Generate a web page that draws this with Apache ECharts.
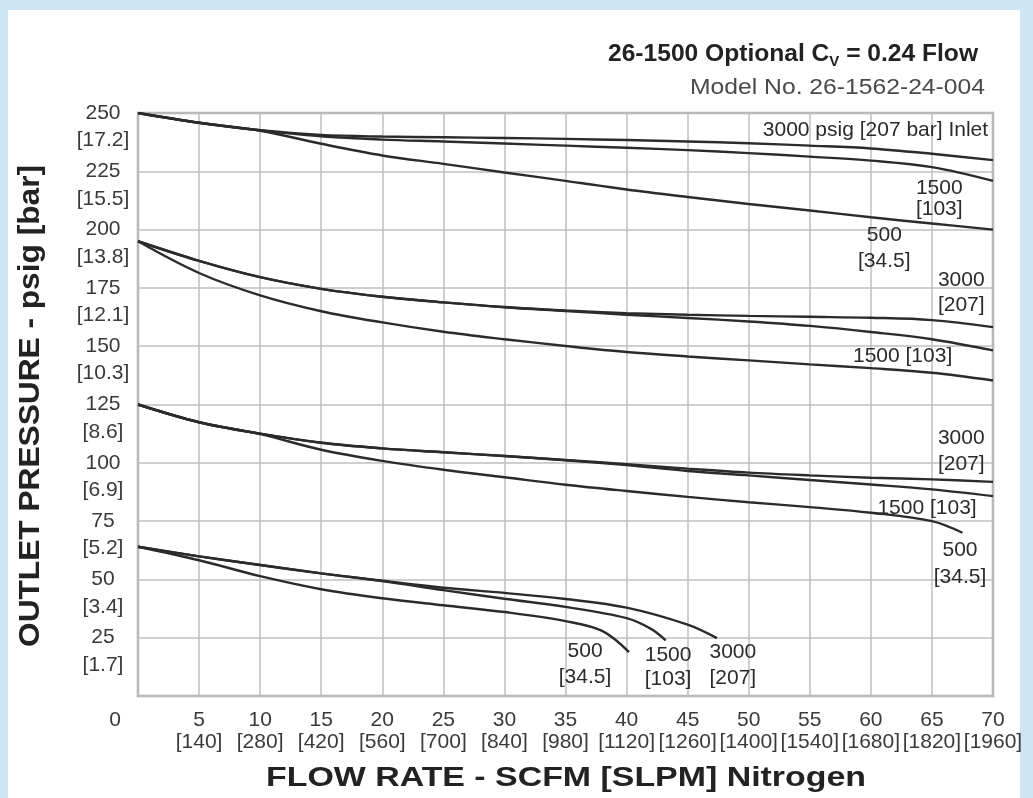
<!DOCTYPE html>
<html><head><meta charset="utf-8">
<script src="https://cdn.jsdelivr.net/npm/echarts@6/dist/echarts.min.js"></script>
<style>
html,body{margin:0;padding:0;background:#cde5f5;overflow:hidden}
#panel{position:absolute;left:8px;top:10px;width:1012px;height:788px;background:#fff}
#c{position:absolute;left:0;top:0;width:1033px;height:798px}
</style>
</head><body><div id="panel"></div><div id="c"></div>
<script>
// ---- tick labels ----
const scfmTicks = [0,5,10,15,20,25,30,35,40,45,50,55,60,65,70];
const slpmTicks = [0,140,280,420,560,700,840,980,1120,1260,1400,1540,1680,1820,1960];
const psigTicks = [0,25,50,75,100,125,150,175,200,225,250];
const barTicks  = ['0','1.7','3.4','5.2','6.9','8.6','10.3','12.1','13.8','15.5','17.2'];

// ---- flow (SCFM) samples ----
const flow = [0,5,10,15,20,25,30,35,40,45,50,55,60,65,70];

// Regulator set ~250 psig
const set250_inlet3000 = [250,245.8,242.6,240.6,239.9,239.6,239.3,238.9,238.4,237.8,237.0,236.0,234.8,232.5,229.8];
const set250_inlet1500 = [250,245.8,242.6,240.0,238.6,237.8,236.9,236.0,235.1,234.1,232.8,231.3,229.6,226.8,220.9];
const set250_inlet500  = [250,245.8,242.4,236.8,231.8,228.2,224.5,220.9,217.2,214.0,211.0,208.2,205.3,202.6,200.0];

// Regulator set ~195 psig
const set195_inlet3000 = [195,186.6,179.6,174.6,171.2,168.8,166.8,165.3,164.2,163.5,163.0,162.6,162.2,161.2,158.2];
const set195_inlet1500 = [195,186.6,179.6,174.6,171.2,168.8,166.7,165.1,163.5,162.1,160.6,158.7,156.1,153.0,148.2];
const set195_inlet500  = [195,181.4,171.8,165.0,160.2,156.2,153.0,150.1,147.5,145.6,143.9,142.2,140.6,138.6,135.3];

// Regulator set ~125 psig
const set125_inlet3000 = [125,117.4,112.5,108.6,106.2,104.5,102.9,101.2,99.4,97.5,95.8,94.6,93.6,92.9,91.8];
const set125_inlet1500 = [125,117.4,112.5,108.6,106.2,104.5,102.9,101.1,99.0,96.5,94.6,92.6,90.7,88.6,85.7];
const flow125_inlet500 = [0,5,10,15,20,25,30,35,40,45,50,55,60,65,67.5];
const set125_inlet500  = [125,117.4,112.3,105.6,100.8,97.0,93.8,90.6,87.9,85.4,83.1,81.0,78.6,75.0,70.0];

// Regulator set ~64 psig
const flow64_inlet3000 = [0,5,10,15,20,25,30,35,40,45,47.4];
const set64_inlet3000  = [64,59.9,56.2,52.6,49.4,46.4,44.2,41.6,37.9,30.6,24.8];
const flow64_inlet1500 = [0,5,10,15,20,25,30,35,40,42,43.2];
const set64_inlet1500  = [64,59.9,56.2,52.6,49.3,45.4,41.7,38.2,33.4,28.8,23.9];
const flow64_inlet500  = [0,5,10,15,20,25,30,35,38,40.2];
const set64_inlet500   = [64,58.2,51.4,45.8,41.9,38.9,36.0,32.1,27.9,18.8];

// curve annotation texts
const curveLabelText = ['3000 psig [207 bar] Inlet','1500\n[103]','500\n[34.5]','3000\n[207]','1500 [103]',
  '3000\n[207]','1500 [103]','500\n[34.5]','500\n[34.5]','1500\n[103]','3000\n[207]'];
// annotation anchors (data coords) and layout
const curveLabelLayout = [
  {at:[69.6,242.7],align:'right',lh:22},{at:[65.6,213.3],align:'center',lh:21},{at:[61.1,192.1],align:'center',lh:26},
  {at:[67.4,173.0],align:'center',lh:25},{at:[62.6,145.8],align:'center',lh:22},{at:[67.4,105.1],align:'center',lh:26},
  {at:[64.6,80.6],align:'center',lh:22},{at:[67.3,56.8],align:'center',lh:27},{at:[36.6,13.7],align:'center',lh:26},
  {at:[43.4,12.2],align:'center',lh:24},{at:[48.7,13.3],align:'center',lh:26}
];

const pairs = (xs, ys) => xs.map((x, i) => [x, ys[i]]);
const curves = [
  pairs(flow, set250_inlet3000), pairs(flow, set250_inlet1500), pairs(flow, set250_inlet500),
  pairs(flow, set195_inlet3000), pairs(flow, set195_inlet1500), pairs(flow, set195_inlet500),
  pairs(flow, set125_inlet3000), pairs(flow, set125_inlet1500), pairs(flow125_inlet500, set125_inlet500),
  pairs(flow64_inlet3000, set64_inlet3000), pairs(flow64_inlet1500, set64_inlet1500), pairs(flow64_inlet500, set64_inlet500)
];

const FONT = '"Liberation Sans", Arial, sans-serif';
const TICK_COLOR = '#3a3a3a';
const chart = echarts.init(document.getElementById('c'), null, {renderer: 'canvas'});

const yBase = {
  type: 'value', min: 0, max: 250, interval: 25, position: 'left',
  axisLine: {show: false}, axisTick: {show: false}
};
chart.setOption({
  backgroundColor: 'transparent',
  animation: false,
  grid: {left: 138, right: 40, top: 113, bottom: 102, show: true, borderColor: '#a9a9a9', borderWidth: 2.5, backgroundColor: 'transparent'},
  xAxis: {
    type: 'value', min: 0, max: 70, interval: 5,
    axisLine: {show: false}, axisTick: {show: false},
    splitLine: {show: true, lineStyle: {color: '#bfbfbf', width: 1.5}},
    axisLabel: {
      margin: 13, color: TICK_COLOR, fontFamily: FONT, fontSize: 21, lineHeight: 22,
      showMinLabel: true, showMaxLabel: true,
      formatter: v => { const i = scfmTicks.indexOf(v); if (i === 0) return '{z|' + v + '}'; return v + '\n[' + slpmTicks[i] + ']'; },
      rich: {z: {fontFamily: FONT, fontSize: 21, lineHeight: 22, color: TICK_COLOR, padding: [0, 46, 0, 0]}}
    }
  },
  yAxis: [
    Object.assign({}, yBase, {
      splitLine: {show: true, lineStyle: {color: '#bfbfbf', width: 1.5}},
      axisLabel: {margin: 35, align: 'center', verticalAlign: 'middle', padding: [3, 0, 0, 0], color: TICK_COLOR, fontFamily: FONT, fontSize: 21, lineHeight: 25,
        showMinLabel: true, showMaxLabel: true,
        formatter: v => v === 0 ? '' : String(v)}
    }),
    Object.assign({}, yBase, {
      splitLine: {show: false},
      axisLabel: {margin: 35, align: 'center', verticalAlign: 'top', padding: [15, 0, 0, 0], color: TICK_COLOR, fontFamily: FONT, fontSize: 21, lineHeight: 25,
        showMinLabel: true, showMaxLabel: true,
        formatter: v => { const i = psigTicks.indexOf(v); return i <= 0 ? '' : '[' + barTicks[i] + ']'; }}
    })
  ],
  series: curves.map(d => ({
    type: 'line', data: d, smooth: 0.35, showSymbol: false, symbol: 'none', yAxisIndex: 0,
    lineStyle: {color: '#2b2b2b', width: 2.4}, z: 5
  }))
});

// text sizing helpers
const mctx = document.createElement('canvas').getContext('2d');
const tw = (t, f) => { mctx.font = f; return mctx.measureText(t).width; };

const g = [];
// title
const tA1 = '26-1500 Optional C', tB = 'V', tA2 = ' = 0.24 Flow';
const tFont = 'bold 23px ' + FONT, sFont = 'bold 14px ' + FONT;
const tW = tw(tA1, tFont) + tw(tB, sFont) + tw(tA2, tFont);
g.push({type: 'text', x: 978, y: 55, scaleX: 370 / tW, z: 100,
  style: {text: '{a|' + tA1 + '}{b|' + tB + '}{a|' + tA2 + '}', align: 'right', verticalAlign: 'middle',
    rich: {a: {fontFamily: FONT, fontWeight: 'bold', fontSize: 23, lineHeight: 28, fill: '#222'},
           b: {fontFamily: FONT, fontWeight: 'bold', fontSize: 14, lineHeight: 28, verticalAlign: 'bottom', fill: '#222'}}}});
// subtitle
const subT = 'Model No. 26-1562-24-004';
g.push({type: 'text', x: 985, y: 88, scaleX: 295 / tw(subT, '22px ' + FONT), z: 100,
  style: {text: subT, font: '22px ' + FONT, fill: '#4a4a4a', align: 'right', verticalAlign: 'middle'}});
// y axis title
const yT = 'OUTLET PRESSURE - psig [bar]';
g.push({type: 'text', x: 31, y: 406, rotation: Math.PI / 2, scaleX: 482 / tw(yT, 'bold 30px ' + FONT), z: 100,
  style: {text: yT, font: 'bold 30px ' + FONT, fill: '#222', align: 'center', verticalAlign: 'middle'}});
// x axis title
const xT = 'FLOW RATE - SCFM [SLPM] Nitrogen';
g.push({type: 'text', x: 566, y: 779, scaleX: 600 / tw(xT, 'bold 27px ' + FONT), z: 100,
  style: {text: xT, font: 'bold 27px ' + FONT, fill: '#222', align: 'center', verticalAlign: 'middle'}});
// curve annotations
curveLabelText.forEach((t, i) => {
  const L = curveLabelLayout[i];
  const p = chart.convertToPixel({gridIndex: 0}, L.at);
  g.push({type: 'text', x: p[0], y: p[1], z: 100,
    style: {text: t, fontFamily: FONT, fontSize: 21, lineHeight: L.lh, fill: '#2b2b2b', align: L.align, verticalAlign: 'middle'}});
});
chart.setOption({graphic: g});
</script>
</body></html>
